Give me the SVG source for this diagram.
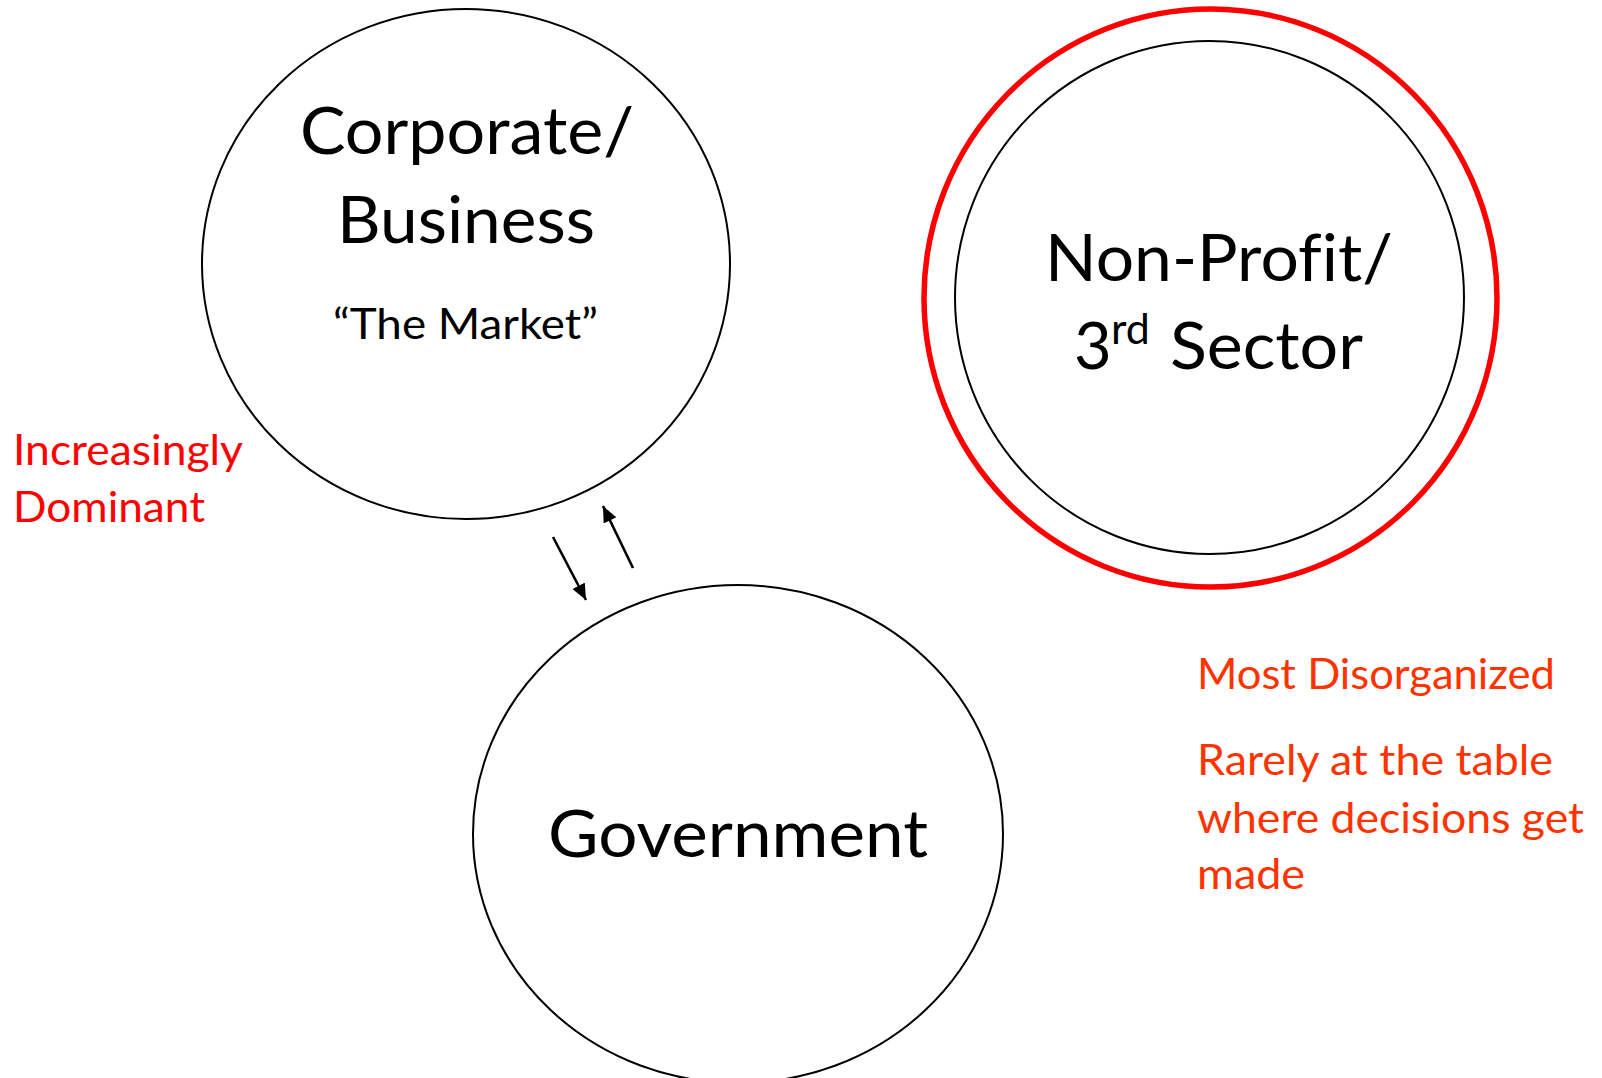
<svg xmlns="http://www.w3.org/2000/svg" width="1602" height="1078" viewBox="0 0 1602 1078">
<defs>
<marker id="ah" markerUnits="userSpaceOnUse" markerWidth="18" markerHeight="14" refX="16" refY="7" orient="auto">
<path d="M0,0 L16,7 L0,14 Z" fill="#000"/>
</marker>
<style>
.c{fill:none;stroke:#000;stroke-width:2}
text{font-variant-ligatures:none}
.big{font-family:Lato,"Open Sans",sans-serif;font-size:65px;fill:#000}
.mid{font-family:Lato,"Open Sans",sans-serif;font-size:43px;fill:#000}
.red{font-family:Lato,"Open Sans",sans-serif;font-size:42px;fill:#FF0000}
.org{font-family:Lato,"Open Sans",sans-serif;font-size:42px;fill:#FF3300}
.ar{stroke:#000;stroke-width:2.6;fill:none}
</style>
</defs>
<rect width="1602" height="1078" fill="#fff"/>
<g id="corporate">
<ellipse class="c" cx="466" cy="264" rx="264" ry="255"/>
<text class="big" x="300" y="154" textLength="334" lengthAdjust="spacingAndGlyphs">Corporate/</text>
<text class="big" x="337" y="243" textLength="258" lengthAdjust="spacingAndGlyphs">Business</text>
<text class="mid" x="333" y="339" textLength="265" lengthAdjust="spacingAndGlyphs">“The Market”</text>
</g>
<g id="nonprofit">
<ellipse cx="1210.5" cy="298" rx="286.5" ry="289" fill="none" stroke="#FF0000" stroke-width="5.5"/>
<ellipse class="c" cx="1209.5" cy="297.5" rx="254.5" ry="256.5"/>
<text class="big" x="1045" y="281" textLength="348" lengthAdjust="spacingAndGlyphs">Non-Profit/</text>
<text class="big" y="369"><tspan x="1074">3</tspan><tspan x="1111" y="344" font-size="43px">rd</tspan><tspan x="1170" y="369" textLength="193" lengthAdjust="spacingAndGlyphs">Sector</tspan></text>
</g>
<g id="government">
<ellipse class="c" cx="738" cy="834" rx="265" ry="249"/>
<text class="big" x="548" y="857" textLength="380" lengthAdjust="spacingAndGlyphs">Government</text>
</g>
<g id="connectors">
<line class="ar" x1="553" y1="537" x2="586" y2="600" marker-end="url(#ah)"/>
<line class="ar" x1="633" y1="568" x2="603" y2="506" marker-end="url(#ah)"/>
</g>
<g id="labels">
<text class="red" x="13" y="465" textLength="230" lengthAdjust="spacingAndGlyphs">Increasingly</text>
<text class="red" x="13" y="522" textLength="192" lengthAdjust="spacingAndGlyphs">Dominant</text>
<text class="org" x="1197" y="689" textLength="358" lengthAdjust="spacingAndGlyphs">Most Disorganized</text>
<text class="org" x="1197" y="775" textLength="356" lengthAdjust="spacingAndGlyphs">Rarely at the table</text>
<text class="org" x="1197" y="833" textLength="387" lengthAdjust="spacingAndGlyphs">where decisions get</text>
<text class="org" x="1197" y="889" textLength="108" lengthAdjust="spacingAndGlyphs">made</text>
</g>
</svg>
